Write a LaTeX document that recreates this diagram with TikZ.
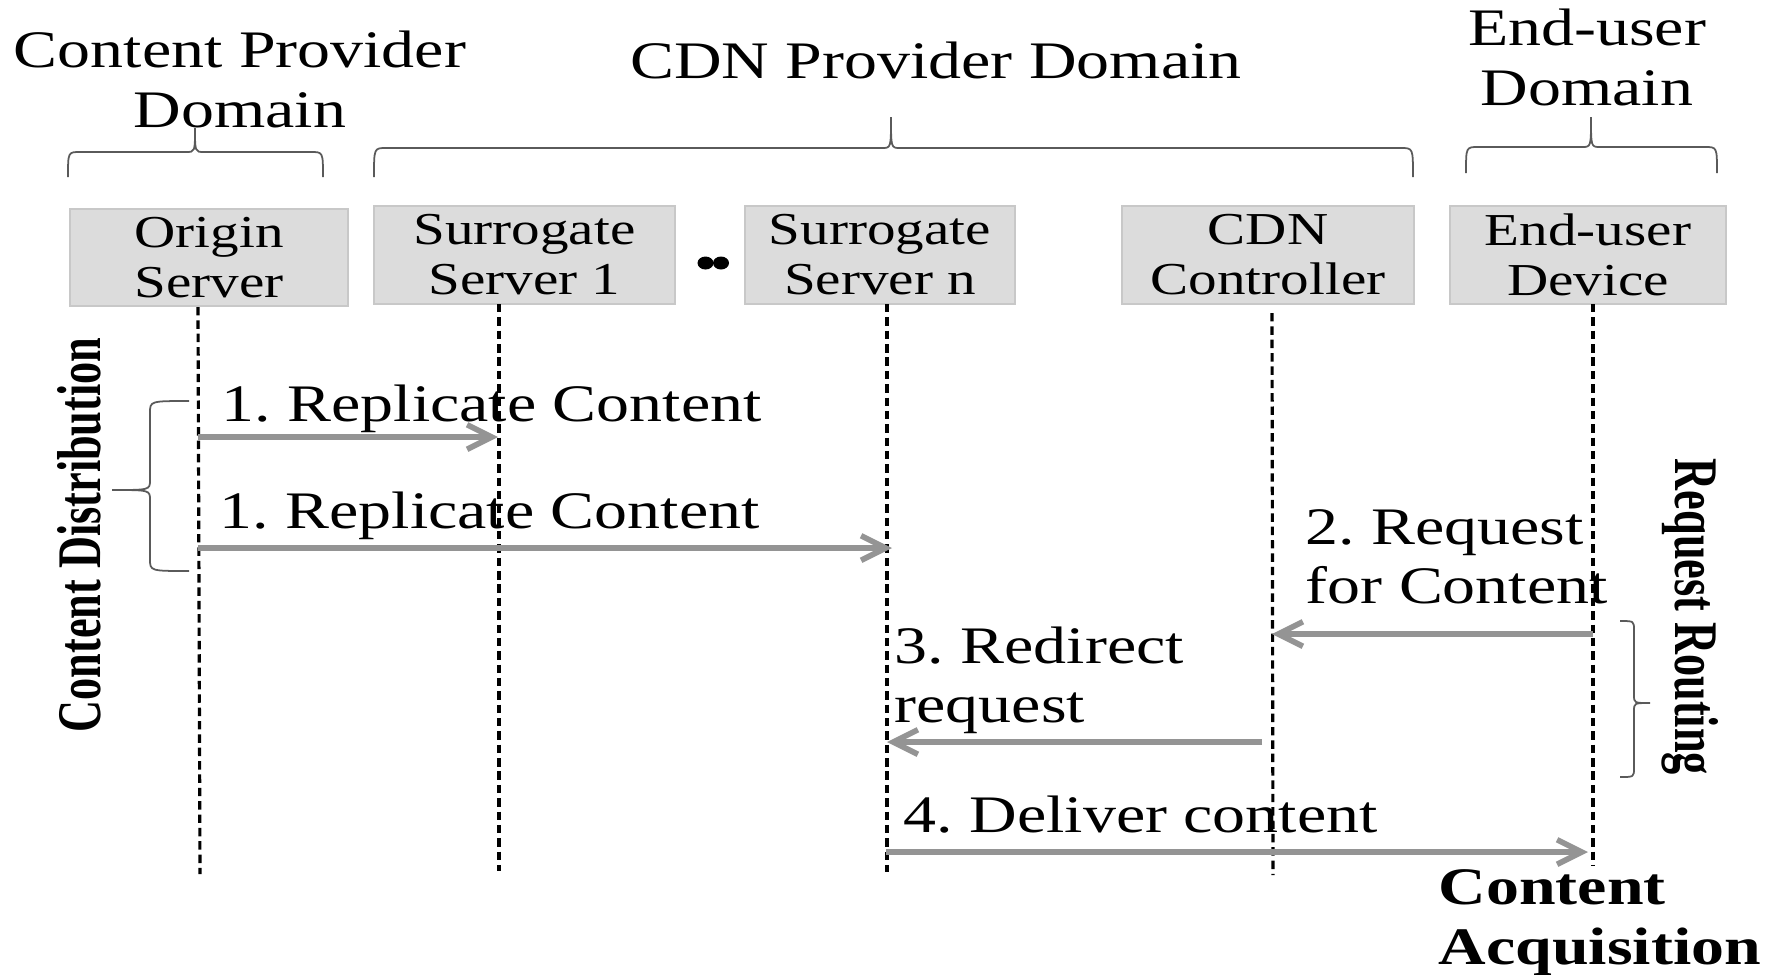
\documentclass[tikz,border=0pt]{standalone}
\usepackage{fontspec}
\setmainfont[FakeStretch=1.25]{Liberation Serif}
\newfontfamily\rotfont{Liberation Serif}
\usepackage{graphicx}
\usetikzlibrary{arrows.meta}

\newlength{\du}
\setlength{\du}{0.1mm}

\definecolor{boxfill}{rgb}{0.862745, 0.862745, 0.862745}
\definecolor{boxline}{rgb}{0.784314, 0.784314, 0.784314}
\definecolor{msgcolor}{rgb}{0.580392, 0.580392, 0.580392}
\definecolor{bracecolor}{rgb}{0.352941, 0.352941, 0.352941}

\tikzset{
  entity/.style={draw=boxline, fill=boxfill, line width=0.6pt, inner sep=0pt,
    align=center, font=\fontsize{13}{14.2}\selectfont},
  lifeline/.style={draw=black, line width=0.9pt, dash pattern=on 2.4pt off 1.4pt},
  msg/.style={draw=msgcolor, line width=1.6pt, -{Straight Barb[length=7pt,width=7pt]}},
  msglabel/.style={anchor=base west, inner sep=0pt, align=left,
    font=\fontsize{15}{16.6}\selectfont},
  domainlbl/.style={anchor=base, inner sep=0pt, align=center,
    font=\fontsize{15}{16.8}\selectfont},
  curly/.style={draw=bracecolor, line width=0.5pt},
  phase/.style={inner sep=0pt, font=\rotfont\bfseries\fontsize{12.6}{14}\selectfont}
}

\begin{document}
\frenchspacing
\begin{tikzpicture}
\pgftransformxscale{1.000000}
\pgftransformyscale{-1.000000}
\useasboundingbox (0\du,0\du) rectangle (1779\du,974\du);
% domains (base = last line)
\node[domainlbl] (cpdom) at (240\du,127\du){Content Provider\\Domain};
\node[domainlbl] (cdndom) at (936\du,78\du){CDN Provider Domain};
\node[domainlbl] (eudom) at (1587\du,105\du){End-user\\Domain};
\draw[curly] (68\du,177\du) .. controls (68\du,152\du) .. (80\du,152\du) -- (186\du,152\du)
  .. controls (195\du,152\du) .. (195\du,128\du) .. controls (195\du,152\du) .. (204\du,152\du)
  -- (311\du,152\du) .. controls (323\du,152\du) .. (323\du,177\du);
\draw[curly] (374\du,177\du) .. controls (374\du,148\du) .. (386\du,148\du) -- (882\du,148\du)
  .. controls (891\du,148\du) .. (891\du,117\du) .. controls (891\du,148\du) .. (900\du,148\du)
  -- (1401\du,148\du) .. controls (1413\du,148\du) .. (1413\du,177\du);
\draw[curly] (1466\du,173\du) .. controls (1466\du,147\du) .. (1478\du,147\du) -- (1582\du,147\du)
  .. controls (1591\du,147\du) .. (1591\du,117\du) .. controls (1591\du,147\du) .. (1600\du,147\du)
  -- (1705\du,147\du) .. controls (1717\du,147\du) .. (1717\du,173\du);
% entities
\node[entity, minimum width=278\du, minimum height=97\du] (orig) at (209\du,257.5\du){Origin\\Server};
\node[entity, minimum width=301\du, minimum height=98\du] (sur1) at (524.5\du,255\du){Surrogate\\Server 1};
\node[entity, minimum width=270\du, minimum height=98\du] (surn) at (880\du,255\du){Surrogate\\Server n};
\node[entity, minimum width=292\du, minimum height=98\du] (ctrl) at (1268\du,255\du){CDN\\Controller};
\node[entity, minimum width=276\du, minimum height=98\du] (dev) at (1588\du,255\du){End-user\\Device};
\fill (705.5\du,263\du) circle[x radius=8\du, y radius=6.5\du];
\fill (721\du,263\du) circle[x radius=8\du, y radius=6.5\du];
% lifelines
\coordinate (origTop) at (198\du,307\du);
\coordinate (origEnd) at (200\du,874\du);
\coordinate (sur1Top) at (499\du,304\du);
\coordinate (sur1End) at (499\du,871\du);
\coordinate (surnTop) at (887\du,304\du);
\coordinate (surnEnd) at (887\du,872\du);
\coordinate (ctrlTop) at (1272\du,313\du);
\coordinate (ctrlEnd) at (1273\du,875\du);
\coordinate (devTop) at (1593\du,304\du);
\coordinate (devEnd) at (1593\du,865\du);
\draw[lifeline] (origTop) -- (origEnd);
\draw[lifeline] (sur1Top) -- (sur1End);
\draw[lifeline] (surnTop) -- (surnEnd);
\draw[lifeline] (ctrlTop) -- (ctrlEnd);
\draw[lifeline] (devTop) -- (devEnd);
% messages
\coordinate (repA) at (198\du,437\du);
\coordinate (repAto) at (498\du,437\du);
\coordinate (repB) at (198\du,548\du);
\coordinate (repBto) at (892\du,548\du);
\coordinate (req) at (1593\du,634\du);
\coordinate (reqto) at (1272\du,634\du);
\coordinate (redir) at (1262\du,742\du);
\coordinate (redirto) at (887\du,742\du);
\coordinate (dlv) at (886\du,852\du);
\coordinate (dlvto) at (1588\du,852\du);
\draw[msg] (repA) -- (repAto);
\draw[msg] (repB) -- (repBto);
\draw[msg] (req) -- (reqto);
\draw[msg] (redir) -- (redirto);
\draw[msg] (dlv) -- (dlvto);
\node[msglabel] (repAlbl) at (221\du,421\du){1. Replicate Content};
\node[msglabel] (repBlbl) at (219\du,528\du){1. Replicate Content};
\node[msglabel] (reqlbl) at (1305\du,603\du){2. Request\\for Content};
\node[msglabel] (redirlbl) at (894\du,722\du){3. Redirect\\request};
\node[msglabel] (dlvlbl) at (903\du,832\du){4. Deliver content};
% phases
\draw[curly] (189\du,401\du) .. controls (150\du,401\du) .. (150\du,413\du) -- (150\du,480\du)
  .. controls (150\du,490\du) .. (112\du,490\du) .. controls (150\du,490\du) .. (150\du,500\du)
  -- (150\du,559\du) .. controls (150\du,571\du) .. (189\du,571\du);
\draw[curly] (1620\du,621\du) .. controls (1634\du,621\du) .. (1634\du,630\du) -- (1634\du,695\du)
  .. controls (1634\du,703\du) .. (1650\du,703\du) .. controls (1634\du,703\du) .. (1634\du,711\du)
  -- (1634\du,768\du) .. controls (1634\du,777\du) .. (1620\du,777\du);
\node[phase, rotate=90] (distlbl) at (79\du,535\du){\scalebox{1}[1.4]{Content Distribution}};
\node[phase, rotate=-90] (routlbl) at (1690\du,617\du){\scalebox{1}[1.4]{Request Routing}};
\node[msglabel, font=\bfseries\fontsize{15}{16.8}\selectfont] (acqlbl) at (1438\du,964\du){Content\\Acquisition};
\end{tikzpicture}
\end{document}
